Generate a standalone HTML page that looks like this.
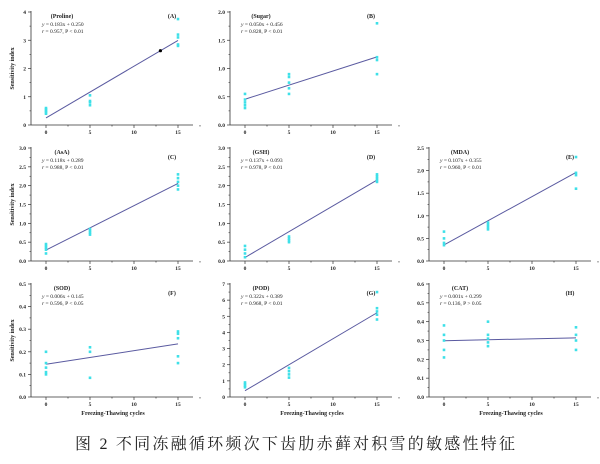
<!DOCTYPE html>
<html><head><meta charset="utf-8"><style>
html,body{margin:0;padding:0;background:#fff;width:600px;height:464px;overflow:hidden}
svg{display:block}
</style></head><body>
<svg id="s" width="600" height="464" xmlns="http://www.w3.org/2000/svg" font-family="Liberation Serif, serif">
<text x="295" y="449" font-size="16" text-anchor="middle" textLength="440" lengthAdjust="spacing" font-family="Liberation Serif, 'Noto Serif CJK SC', serif" fill="#222">图 2 不同冻融循环频次下齿肋赤藓对积雪的敏感性特征</text>
</svg>
<script>
const P=[
{c:0,r:0,max:4,step:1,dec:0,name:"(Proline)",lab:"(A)",eq:"y = 0.183x + 0.250",rr:"r = 0.957, P < 0.01",a:0.183,b:0.25,
 p:[[0,[0.4,0.45,0.5,0.55,0.6]],[5,[0.7,0.8,0.85,1.05]],[15,[2.8,2.85,3.1,3.2,3.75]]],blk:[13,2.63]},
{c:1,r:0,max:2,step:0.5,dec:1,name:"(Sugar)",lab:"(B)",eq:"y = 0.050x + 0.456",rr:"r = 0.828, P < 0.01",a:0.05,b:0.456,
 p:[[0,[0.3,0.35,0.4,0.45,0.55]],[5,[0.55,0.65,0.75,0.85,0.9]],[15,[0.9,1.15,1.2,1.8]]]},
{c:0,r:1,max:3,step:0.5,dec:1,name:"(AsA)",lab:"(C)",eq:"y = 0.118x + 0.289",rr:"r = 0.988, P < 0.01",a:0.118,b:0.289,
 p:[[0,[0.2,0.3,0.35,0.4,0.45]],[5,[0.7,0.75,0.8,0.85]],[15,[1.9,2.0,2.1,2.2,2.3]]]},
{c:1,r:1,max:3,step:0.5,dec:1,name:"(GSH)",lab:"(D)",eq:"y = 0.137x + 0.093",rr:"r = 0.978, P < 0.01",a:0.137,b:0.093,
 p:[[0,[0.1,0.2,0.3,0.4]],[5,[0.5,0.55,0.6,0.65]],[15,[2.1,2.15,2.2,2.25,2.3]]]},
{c:2,r:1,max:2.5,step:0.5,dec:1,name:"(MDA)",lab:"(E)",eq:"y = 0.107x + 0.355",rr:"r = 0.960, P < 0.01",a:0.107,b:0.355,
 p:[[0,[0.35,0.4,0.5,0.65]],[5,[0.7,0.75,0.8,0.85]],[15,[1.6,1.9,1.95,2.3]]]},
{c:0,r:2,max:0.5,step:0.1,dec:1,name:"(SOD)",lab:"(F)",eq:"y = 0.006x + 0.145",rr:"r = 0.596, P < 0.05",a:0.006,b:0.145,
 p:[[0,[0.1,0.11,0.13,0.15,0.2]],[5,[0.085,0.2,0.22]],[15,[0.15,0.18,0.26,0.28,0.29]]]},
{c:1,r:2,max:7,step:1,dec:0,name:"(POD)",lab:"(G)",eq:"y = 0.322x + 0.389",rr:"r = 0.968, P < 0.01",a:0.322,b:0.389,
 p:[[0,[0.6,0.7,0.8,0.9]],[5,[1.2,1.4,1.6,1.8]],[15,[4.8,5.1,5.3,5.5,6.5]]]},
{c:2,r:2,max:0.6,step:0.1,dec:1,name:"(CAT)",lab:"(H)",eq:"y = 0.001x + 0.299",rr:"r = 0.136, P > 0.05",a:0.001,b:0.299,
 p:[[0,[0.21,0.25,0.3,0.33,0.38]],[5,[0.27,0.29,0.31,0.33,0.4]],[15,[0.25,0.3,0.33,0.37]]]}
];
const rows=[[12,125],[148,261],[284,397]];
let h="";
for(const d of P){
 const ax=31+199*d.c, top=rows[d.r][0], bot=rows[d.r][1];
 const X=v=>ax+15+v*132/15, Y=v=>bot-(bot-top)*v/d.max;
 const k="#333";
 h+=`<line x1="${ax}" y1="${top-1}" x2="${ax}" y2="${bot}" stroke="${k}" stroke-width="0.8"/>`;
 h+=`<line x1="${ax}" y1="${bot}" x2="${ax+162}" y2="${bot}" stroke="${k}" stroke-width="0.8"/>`;
 const n=Math.round(d.max/d.step);
 for(let i=0;i<=n;i++){const y=Y(i*d.step);
  h+=`<line x1="${ax-3}" y1="${y}" x2="${ax}" y2="${y}" stroke="${k}" stroke-width="0.7"/>`;
  h+=`<text x="${ax-5}" y="${y+2}" font-size="5.5" font-weight="bold" text-anchor="end" fill="#222">${(i*d.step).toFixed(d.dec)}</text>`;
  if(i<n){const ym=Y((i+0.5)*d.step);h+=`<line x1="${ax-1.5}" y1="${ym}" x2="${ax}" y2="${ym}" stroke="${k}" stroke-width="0.6"/>`;}
 }
 for(let v=0;v<=17.5;v+=2.5){const x=X(v);const maj=v%5==0;
  h+=`<line x1="${x}" y1="${bot}" x2="${x}" y2="${bot+(maj?3:1.5)}" stroke="${k}" stroke-width="0.7"/>`;
  if(maj&&v<=15)h+=`<text x="${x}" y="${bot+9}" font-size="5.5" font-weight="bold" text-anchor="middle" fill="#222">${v}</text>`;}
 if(d.r==2)h+=`<text x="${ax+82}" y="${bot+18}" font-size="6" font-weight="bold" text-anchor="middle" fill="#222">Freezing-Thawing cycles</text>`;
 if(d.c==0)h+=`<text transform="translate(${ax-17},${(top+bot)/2}) rotate(-90)" font-size="6" font-weight="bold" text-anchor="middle" fill="#222">Sensitivity index</text>`;
 h+=`<text x="${ax+31}" y="${top+6}" font-size="6" font-weight="bold" text-anchor="middle" fill="#222">${d.name}</text>`;
 h+=`<text x="${ax+11}" y="${top+14}" font-size="5.5" fill="#222"><tspan font-style="italic">y</tspan>${d.eq.slice(1)}</text>`;
 h+=`<text x="${ax+11}" y="${top+21}" font-size="5.5" fill="#222"><tspan font-style="italic">r</tspan>${d.rr.slice(1)}</text>`;
 h+=`<text x="${ax+141}" y="${top+(d.r==0?6:11)}" font-size="6" font-weight="bold" text-anchor="middle" fill="#222">${d.lab}</text>`;
 h+=`<line x1="${X(0)}" y1="${Y(d.b)}" x2="${X(15)}" y2="${Y(d.b+15*d.a)}" stroke="#5a5aa0" stroke-width="1"/>`;
 for(const [xv,ys] of d.p)for(const yv of ys)h+=`<rect x="${X(xv)-1.3}" y="${Y(yv)-1.3}" width="2.6" height="2.6" fill="#3ee0e8"/>`;
 if(d.blk)h+=`<circle cx="${X(d.blk[0])}" cy="${Y(d.blk[1])}" r="1.6" fill="#000"/>`;
}
document.getElementById("s").insertAdjacentHTML("beforeend",h);
</script>
</body></html>
